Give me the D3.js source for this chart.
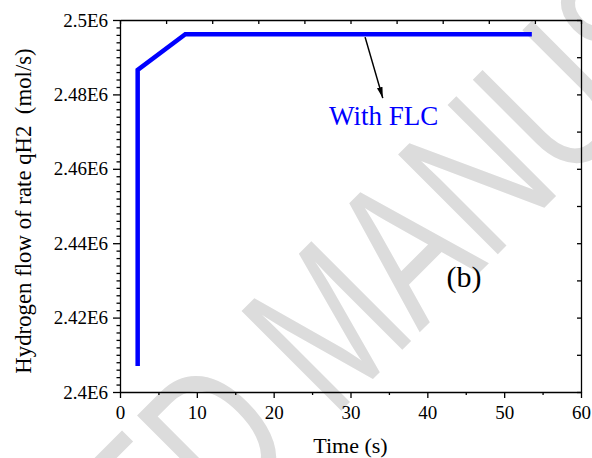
<!DOCTYPE html>
<html>
<head>
<meta charset="utf-8">
<title>Hydrogen flow rate</title>
<style>
  body { margin: 0; background: #fff; }
  svg { display: block; background: #fff; }
  text { font-family: "Liberation Serif", "Times New Roman", serif; }
  .axis .tick text { font-size: 19px; fill: #000; }
  .axis path, .axis line { stroke: #000; stroke-width: 1.3px; }
  .watermark { font-family: "Liberation Sans", Arial, sans-serif; }
</style>
</head>
<body>
<script src="https://cdn.jsdelivr.net/npm/d3@7/dist/d3.min.js"></script>
<script>
const width = 592, height = 458;
const margin = { top: 20, right: 11, bottom: 66, left: 120 };

// series
const time = [2.3, 2.3, 8.5, 53.6];
const rate = [2.407e6, 2.4866e6, 2.4962e6, 2.4962e6];

// axes
const xTicks = [0, 10, 20, 30, 40, 50, 60];
const xMinor = [5, 15, 25, 35, 45, 55];
const xTopTicks = [0, 6, 12, 18, 24, 30, 36, 42, 48, 54, 60];
const yTicks = [2.40e6, 2.42e6, 2.44e6, 2.46e6, 2.48e6, 2.50e6];
const yTickLabels = ['2.4E6', '2.42E6', '2.44E6', '2.46E6', '2.48E6', '2.5E6'];
const yRightTicks = [2.40e6, 2.41e6, 2.42e6, 2.43e6, 2.44e6, 2.45e6, 2.46e6, 2.47e6, 2.48e6, 2.49e6, 2.50e6];

// annotations: arrow from/to and label anchors, in data units
const arrowFrom = [31.9, 2.4954e6];
const arrowTo = [34.2, 2.4790e6];
const flcLabel = [27.2, 2.4718e6];
const panelLabel = [42.5, 2.4282e6];

const x = d3.scaleLinear().domain([0, 60]).range([margin.left, width - margin.right]);
const y = d3.scaleLinear().domain([2.4e6, 2.5e6]).range([height - margin.bottom, margin.top]);

const yMinor = d3.range(0, 51).filter(i => i % 10 !== 0).map(i => 2.4e6 + i * 2000);

const svg = d3.select('body').append('svg')
  .attr('width', width)
  .attr('height', height);

// watermark behind the plot
svg.append('text')
  .attr('class', 'watermark')
  .attr('transform', 'translate(379,373) rotate(-45) scale(0.72,1)')
  .attr('text-anchor', 'middle')
  .attr('font-size', 205)
  .attr('fill', '#dcdcdc')
  .text('ACCEPTED MANUSCRIPT');

const bottom = height - margin.bottom;
const right = width - margin.right;

// minor ticks
svg.append('g').attr('class', 'axis')
  .attr('transform', `translate(${margin.left},0)`)
  .call(d3.axisLeft(y).tickValues(yMinor).tickSize(3.5).tickFormat(''))
  .call(g => g.select('.domain').remove());

svg.append('g').attr('class', 'axis')
  .attr('transform', `translate(0,${bottom})`)
  .call(d3.axisBottom(x).tickValues(xMinor).tickSize(3).tickFormat(''))
  .call(g => g.select('.domain').remove());

// top and right: inward ticks, no labels
svg.append('g').attr('class', 'axis')
  .attr('transform', `translate(0,${margin.top})`)
  .call(d3.axisTop(x).tickValues(xTopTicks).tickSize(-4).tickSizeOuter(0).tickFormat(''));

svg.append('g').attr('class', 'axis')
  .attr('transform', `translate(${right},0)`)
  .call(d3.axisRight(y).tickValues(yRightTicks).tickSize(-4).tickSizeOuter(0).tickFormat(''));

// major axes
svg.append('g').attr('class', 'axis')
  .attr('transform', `translate(${margin.left},0)`)
  .call(d3.axisLeft(y).tickValues(yTicks).tickSize(7).tickSizeOuter(0).tickPadding(5)
    .tickFormat((d, i) => yTickLabels[i]));

svg.append('g').attr('class', 'axis')
  .attr('transform', `translate(0,${bottom})`)
  .call(d3.axisBottom(x).tickValues(xTicks).tickSize(6).tickSizeOuter(0).tickPadding(8));

// titles
svg.append('text')
  .attr('transform', `translate(31,211) rotate(-90)`)
  .attr('text-anchor', 'middle')
  .attr('font-size', 22.8)
  .style('white-space', 'pre')
  .text('Hydrogen flow of rate qH2  (mol/s)');

svg.append('text')
  .attr('x', (margin.left + right) / 2)
  .attr('y', 453)
  .attr('text-anchor', 'middle')
  .attr('font-size', 22)
  .text('Time (s)');

// data line
const line = d3.line()
  .x((d, i) => x(time[i]))
  .y((d, i) => y(rate[i]));

svg.append('path')
  .datum(time)
  .attr('d', line)
  .attr('fill', 'none')
  .attr('stroke', '#0000ff')
  .attr('stroke-width', 4.5)
  .attr('stroke-linejoin', 'miter');

// annotation arrow
svg.append('defs').append('marker')
  .attr('id', 'arrowhead')
  .attr('viewBox', '0 -5 10 10')
  .attr('refX', 10)
  .attr('markerUnits', 'userSpaceOnUse')
  .attr('markerWidth', 11)
  .attr('markerHeight', 11)
  .attr('orient', 'auto')
  .append('path')
  .attr('d', 'M0,-2.6L10,0L0,2.6Z')
  .attr('fill', '#000');

svg.append('line')
  .attr('x1', x(arrowFrom[0])).attr('y1', y(arrowFrom[1]))
  .attr('x2', x(arrowTo[0])).attr('y2', y(arrowTo[1]))
  .attr('stroke', '#000')
  .attr('stroke-width', 1.5)
  .attr('marker-end', 'url(#arrowhead)');

svg.append('text')
  .attr('x', x(flcLabel[0]))
  .attr('y', y(flcLabel[1]))
  .attr('font-size', 27)
  .attr('fill', '#0000ff')
  .text('With FLC');

svg.append('text')
  .attr('x', x(panelLabel[0]))
  .attr('y', y(panelLabel[1]))
  .attr('font-size', 30)
  .attr('fill', '#000')
  .text('(b)');
</script>
</body>
</html>
